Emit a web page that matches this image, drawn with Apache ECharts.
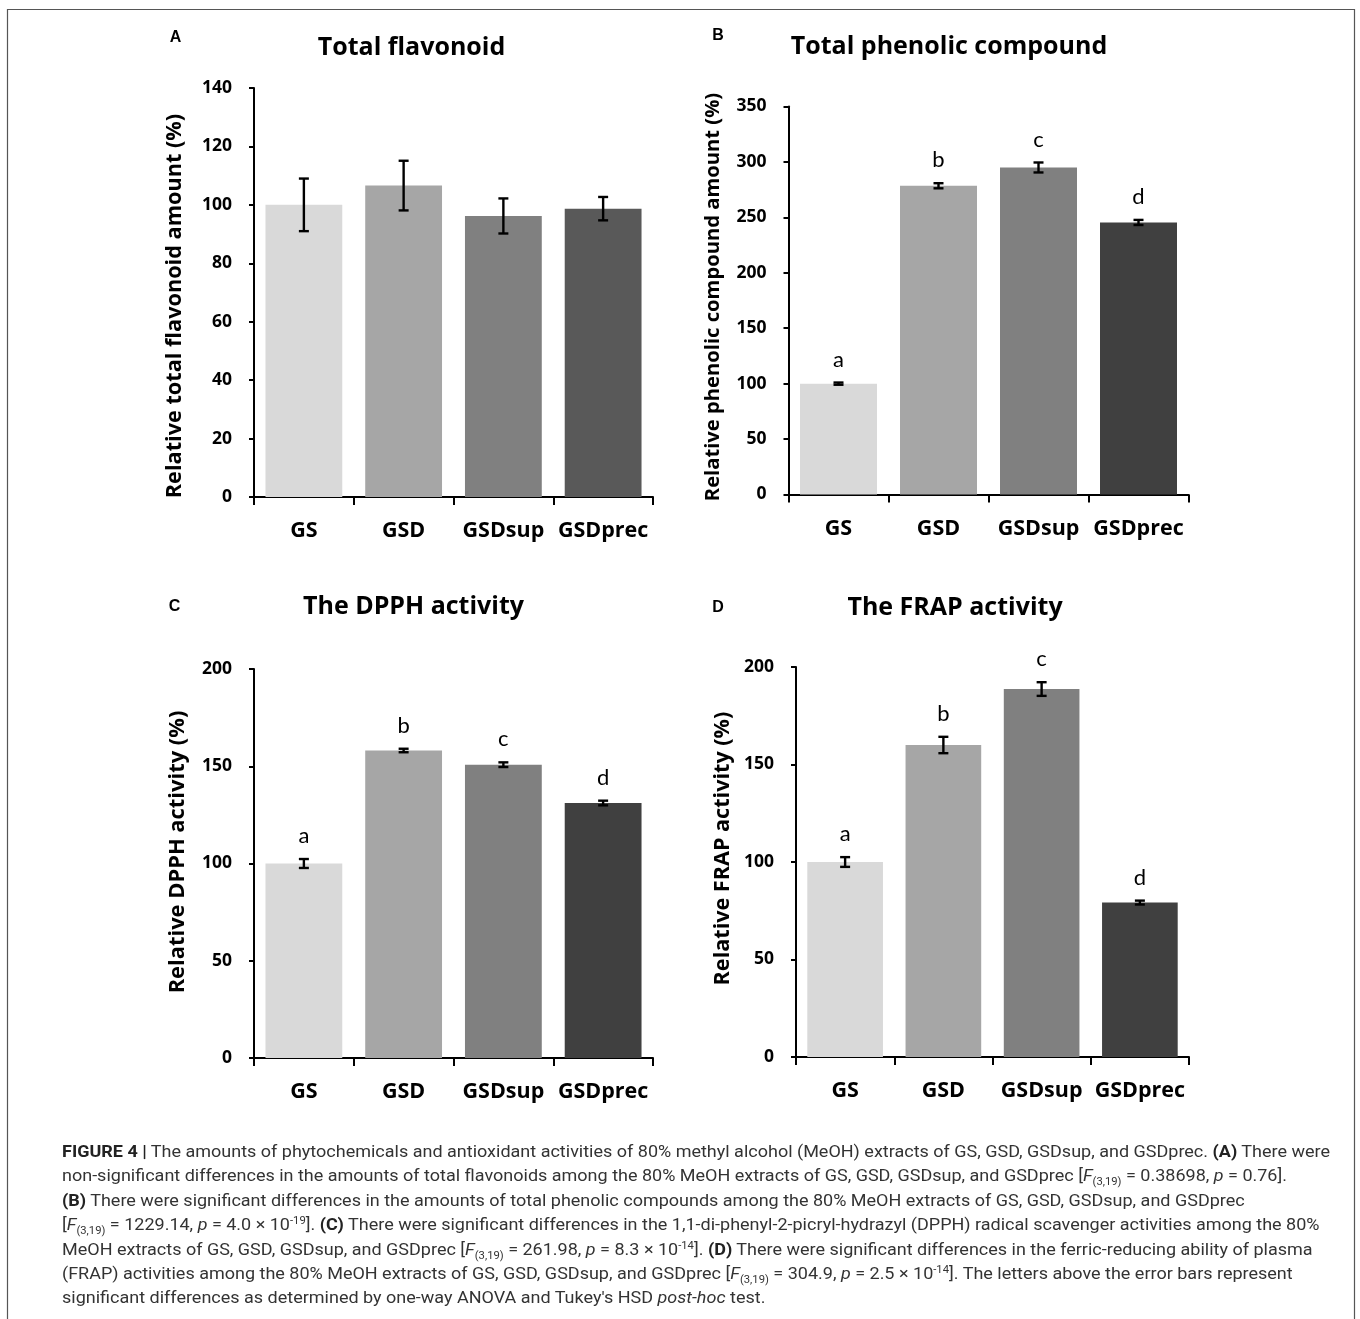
<!DOCTYPE html>
<html>
<head>
<meta charset="utf-8">
<script src="https://cdn.jsdelivr.net/npm/echarts@6/dist/echarts.min.js"></script>
<style>
  html, body { margin: 0; padding: 0; background: #fff; }
  #wrap { position: relative; width: 1360px; height: 1319px; overflow: hidden; }
  #chart { position: absolute; left: 0; top: 0; width: 1360px; height: 1319px; }
  #cap { position: absolute; left: 62px; top: 1140px; color: #333; font-family: Roboto, "Liberation Sans", sans-serif;
         font-size: 16px; line-height: 24.4px; white-space: nowrap; transform-origin: 0 0; }
  #cap .ln { height: 24.4px; }
  #cap sub, #cap sup { font-size: 10px; line-height: 0; }
  #cap b { font-weight: 700; color: #222; }
</style>
</head>
<body>
<div id="wrap">
  <div id="chart"></div>
  <div id="cap">
    <div class="ln" id="ln1"><b>FIGURE 4 |</b> The amounts of phytochemicals and antioxidant activities of 80% methyl alcohol (MeOH) extracts of GS, GSD, GSDsup, and GSDprec. <b>(A)</b> There were</div>
    <div class="ln">non-significant differences in the amounts of total flavonoids among the 80% MeOH extracts of GS, GSD, GSDsup, and GSDprec [<i>F</i><sub>(3,19)</sub> = 0.38698, <i>p</i> = 0.76].</div>
    <div class="ln"><b>(B)</b> There were significant differences in the amounts of total phenolic compounds among the 80% MeOH extracts of GS, GSD, GSDsup, and GSDprec</div>
    <div class="ln">[<i>F</i><sub>(3,19)</sub> = 1229.14, <i>p</i> = 4.0 × 10<sup>-19</sup>]. <b>(C)</b> There were significant differences in the 1,1-di-phenyl-2-picryl-hydrazyl (DPPH) radical scavenger activities among the 80%</div>
    <div class="ln">MeOH extracts of GS, GSD, GSDsup, and GSDprec [<i>F</i><sub>(3,19)</sub> = 261.98, <i>p</i> = 8.3 × 10<sup>-14</sup>]. <b>(D)</b> There were significant differences in the ferric-reducing ability of plasma</div>
    <div class="ln">(FRAP) activities among the 80% MeOH extracts of GS, GSD, GSDsup, and GSDprec [<i>F</i><sub>(3,19)</sub> = 304.9, <i>p</i> = 2.5 × 10<sup>-14</sup>]. The letters above the error bars represent</div>
    <div class="ln">significant differences as determined by one-way ANOVA and Tukey's HSD <i>post-hoc</i> test.</div>
  </div>
</div>
<script>
// ---------------- data ----------------
const categories = ['GS', 'GSD', 'GSDsup', 'GSDprec'];

const flavonoidMean = [100, 106.6, 96.2, 98.7];
const flavonoidErr  = [9, 8.5, 6, 4];
const flavonoidLetters = ['', '', '', ''];

const phenolicMean = [100, 278.5, 295, 245.4];
const phenolicErr  = [1, 2.3, 4.5, 2.3];
const phenolicLetters = ['a', 'b', 'c', 'd'];

const dpphMean = [100, 158.1, 150.8, 131.1];
const dpphErr  = [2.3, 0.9, 1.2, 1.2];
const dpphLetters = ['a', 'b', 'c', 'd'];

const frapMean = [100, 160, 188.7, 79.2];
const frapErr  = [2.5, 4.2, 3.5, 1];
const frapLetters = ['a', 'b', 'c', 'd'];

const panelTitles = ['Total flavonoid', 'Total phenolic compound', 'The DPPH activity', 'The FRAP activity'];
const panelLetters = ['A', 'B', 'C', 'D'];
const yNames = ['Relative total flavonoid amount (%)', 'Relative phenolic compound amount (%)',
                'Relative DPPH activity (%)', 'Relative FRAP activity (%)'];
const yMax  = [140, 350, 200, 200];
const yStep = [20, 50, 50, 50];

// ---------------- styles ----------------
const colorsA = ['#d9d9d9', '#a6a6a6', '#808080', '#595959'];
const colorsBCD = ['#d9d9d9', '#a6a6a6', '#808080', '#404040'];
const FONT = '"Open Sans", Lato, sans-serif';
const LFONT = 'Lato, "Open Sans", sans-serif';

const grids = [
  { left: 254, top: 88,    width: 399, height: 409 },
  { left: 788.5, top: 106.5, width: 400, height: 388 },
  { left: 254, top: 669,   width: 399, height: 389 },
  { left: 796, top: 667,   width: 393, height: 390 }
];
const nameGaps = [68, 65, 65, 62];
const nameSizes = [21.7, 20.2, 21.9, 21.6];
const namePads = [[0, 27, 0, 0], [0, 0, 0, 7], [0, 0, 0, 23], [0, 0, 0, 27]];
const titlePos = [[411.5, 47.5], [949, 46.5], [413.5, 607], [955, 607.5]];
const letterPos = [[175.5, 37.5], [718, 36], [174.5, 607], [718, 607.5]];

const panels = [
  { mean: flavonoidMean, err: flavonoidErr, letters: flavonoidLetters, colors: colorsA },
  { mean: phenolicMean, err: phenolicErr, letters: phenolicLetters, colors: colorsBCD },
  { mean: dpphMean, err: dpphErr, letters: dpphLetters, colors: colorsBCD },
  { mean: frapMean, err: frapErr, letters: frapLetters, colors: colorsBCD }
];

const xAxes = [], yAxes = [], series = [];
panels.forEach((p, i) => {
  xAxes.push({
    type: 'category', gridIndex: i, data: categories,
    axisLine: { lineStyle: { color: '#000', width: 2 } },
    axisTick: { show: true, length: 8, lineStyle: { color: '#000', width: 2 } },
    axisLabel: { interval: 0, color: '#000', fontFamily: FONT, fontWeight: 'bold', fontSize: 21.5, margin: 23 }
  });
  yAxes.push({
    type: 'value', gridIndex: i, min: 0, max: yMax[i], interval: yStep[i],
    name: yNames[i], nameLocation: 'middle', nameRotate: 90, nameGap: nameGaps[i],
    nameTextStyle: { color: '#000', fontFamily: FONT, fontWeight: 'bold', fontSize: nameSizes[i], padding: namePads[i] },
    axisLine: { show: true, lineStyle: { color: '#000', width: 2 } },
    axisTick: { show: true, length: 5, lineStyle: { color: '#000', width: 2 } },
    axisLabel: { color: '#000', fontFamily: FONT, fontWeight: 'bold', fontSize: 17.5, margin: 22 },
    splitLine: { show: false }
  });
  series.push({
    type: 'bar', xAxisIndex: i, yAxisIndex: i, barCategoryGap: '23%',
    data: p.mean.map((v, k) => ({ value: v, itemStyle: { color: p.colors[k] } })),
    silent: true
  });
  series.push({
    type: 'custom', xAxisIndex: i, yAxisIndex: i, silent: true, z: 5,
    data: p.mean.map((v, k) => [k, v, p.err[k]]),
    renderItem: function (params, api) {
      const k = api.value(0), m = api.value(1), e = api.value(2);
      const letter = p.letters[params.dataIndex];
      const top = api.coord([k, m + e]);
      const bot = api.coord([k, m - e]);
      const hw = 5;
      const ls = { stroke: '#000', lineWidth: 2.4 };
      const children = [
        { type: 'line', shape: { x1: top[0], y1: top[1], x2: bot[0], y2: bot[1] }, style: ls },
        { type: 'line', shape: { x1: top[0] - hw, y1: top[1], x2: top[0] + hw, y2: top[1] }, style: ls },
        { type: 'line', shape: { x1: bot[0] - hw, y1: bot[1], x2: bot[0] + hw, y2: bot[1] }, style: ls }
      ];
      if (letter) {
        children.push({ type: 'text', x: top[0], y: top[1] - 23,
          style: { text: letter, align: 'center', verticalAlign: 'middle', fill: '#000',
                   fontFamily: LFONT, fontSize: 22 } });
      }
      return { type: 'group', children: children };
    }
  });
});

const graphics = [
  { type: 'polyline', shape: { points: [[7.5, 1319], [7.5, 9.5], [1354.5, 9.5], [1354.5, 1319]] },
    style: { stroke: '#555', lineWidth: 1.2, fill: null }, silent: true }
];
panelTitles.forEach((t, i) => {
  graphics.push({ type: 'text', x: titlePos[i][0], y: titlePos[i][1], silent: true,
    style: { text: t, align: 'center', verticalAlign: 'middle', fill: '#000',
             fontFamily: FONT, fontWeight: 'bold', fontSize: 25 } });
  graphics.push({ type: 'text', x: letterPos[i][0], y: letterPos[i][1], silent: true,
    style: { text: panelLetters[i], align: 'center', verticalAlign: 'middle', fill: '#000',
             fontFamily: '"Liberation Sans", Arial, sans-serif', fontWeight: 'bold', fontSize: 16 } });
});

const chart = echarts.init(document.getElementById('chart'), null, { renderer: 'canvas' });
chart.setOption({
  animation: false,
  backgroundColor: '#fff',
  grid: grids,
  xAxis: xAxes,
  yAxis: yAxes,
  series: series,
  graphic: graphics
});

// fit the caption width to the reference (line 1 spans ~62 → ~1330)
(function () {
  const cap = document.getElementById('cap');
  const ln1 = document.getElementById('ln1');
  const span = document.createElement('span');
  span.innerHTML = ln1.innerHTML;
  ln1.innerHTML = '';
  ln1.appendChild(span);
  const w = span.getBoundingClientRect().width;
  const s = 1268 / w;
  cap.style.transform = 'scaleX(' + s + ')';
})();
</script>
</body>
</html>
